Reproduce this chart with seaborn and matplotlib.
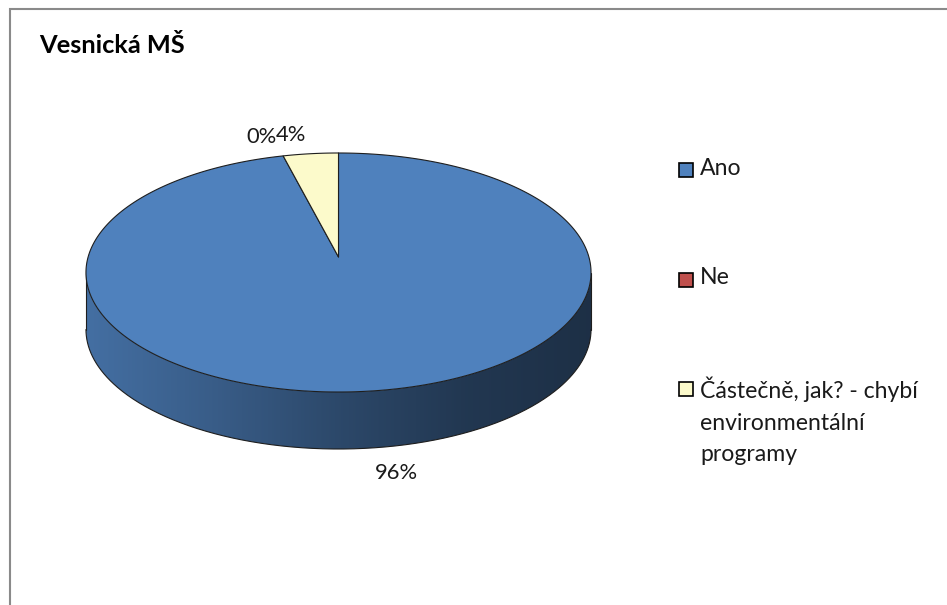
import numpy as np
import matplotlib
matplotlib.use("Agg")
import matplotlib.pyplot as plt
from matplotlib.patches import Polygon, Rectangle
import seaborn as sns

# --- chart data -------------------------------------------------------------
title = "Vesnická MŠ"
categories = ["Ano", "Ne", "Částečně, jak? - chybí\nenvironmentální\nprogramy"]
shares = [96, 0, 4]
slice_colors = ["#4F81BD", "#C0504D", "#FCFACB"]

# --- style ------------------------------------------------------------------
sns.set_theme(style="white")
plt.rcParams["font.family"] = ["Lato", "DejaVu Sans"]

W, H = 947, 605
fig = plt.figure(figsize=(W / 100, H / 100), dpi=100)
ax = fig.add_axes([0, 0, 1, 1])
ax.axis("off")

# chart-area frame (top and left edges)
ax.plot([10, 10, W], [H, 8.5, 8.5], color="#8A8A8A", lw=1.5,
         solid_capstyle="butt", solid_joinstyle="miter", zorder=1)

# --- 3-D pie geometry (tilted disc seen in perspective) ---------------------
CX, CY = 338.5, 257.0        # screen position of the disc centre
A, B, P = 250.4, 117.5, 0.1297
DEPTH = 57.0                 # thickness of the pie
EDGE = "#1E1E1E"


def project(theta, r=1.0, drop=0.0):
    """theta: clockwise from 12 o'clock (radians)."""
    u = r * np.sin(theta)
    v = r * np.cos(theta)
    d = 1.0 + P * v
    return CX + A * u / d, CY - B * v / d + drop


def shade(color, k):
    rgb = np.array(matplotlib.colors.to_rgb(color))
    return tuple(rgb * k)


total = float(sum(shares))
bounds = np.concatenate([[0.0], np.cumsum(shares) / total]) * 2 * np.pi

# visible part of the rim (between the two silhouette points)
t_vis0 = np.arccos(-P)
t_vis1 = 2 * np.pi - t_vis0
x_left, _ = project(t_vis1)
x_right, _ = project(t_vis0)

for i, col in enumerate(slice_colors):
    t0, t1 = bounds[i], bounds[i + 1]
    a0, a1 = max(t0, t_vis0), min(t1, t_vis1)
    if a1 <= a0:
        continue
    # rim shading: lit from the left, darkening towards the right
    side_cmap = sns.blend_palette(
        [shade(col, 0.86), shade(col, 0.72), shade(col, 0.56),
         shade(col, 0.43), shade(col, 0.37)], as_cmap=True)
    ts = np.linspace(a0, a1, 400)
    xt, yt = project(ts)
    xb, yb = project(ts, drop=DEPTH)
    rim = Polygon(list(zip(xt, yt)) + list(zip(xb[::-1], yb[::-1])),
                  closed=True, facecolor="none", edgecolor="none")
    ax.add_patch(rim)
    grad = np.linspace(0, 1, 512)[None, :]
    im = ax.imshow(grad, cmap=side_cmap, aspect="auto", interpolation="bilinear",
                   extent=(x_left, x_right, yb.max() + 2, yt.min() - 2), zorder=2)
    im.set_clip_path(rim)
    ax.plot(xb, yb, color=EDGE, lw=0.8, zorder=3)
    for t in (a0, a1):
        x, y = project(t)
        ax.plot([x, x], [y, y + DEPTH], color=EDGE, lw=0.8, zorder=3)

# top faces
for i, col in enumerate(slice_colors):
    t0, t1 = bounds[i], bounds[i + 1]
    if t1 - t0 <= 0:
        continue
    ts = np.linspace(t0, t1, max(3, int(600 * (t1 - t0) / (2 * np.pi))))
    xs, ys = project(ts)
    pts = [(CX, CY)] + list(zip(xs, ys))
    ax.add_patch(Polygon(pts, closed=True, facecolor=col, edgecolor=EDGE,
                         lw=0.8, joinstyle="round", zorder=4))

# data labels
for i, val in enumerate(shares):
    t0, t1 = bounds[i], bounds[i + 1]
    mid = (t0 + t1) / 2
    lx, ly = project(mid, r=1.1)
    front = np.cos(mid) < 0
    if front:
        ly += DEPTH
    ha = "left" if lx > CX else "right"
    va = "top" if front else "bottom"
    ax.text(lx - (4 if ha == "left" else 2), ly, f"{val:.0f}%", ha=ha, va=va,
            fontsize=15.8, color="#1A1A1A", zorder=6)

# title
ax.text(39, 53, title, ha="left", va="baseline", fontsize=18.3,
        fontweight="bold", color="#000000")

# legend
LEG_X, LEG_Y0, LEG_STEP, BOX = 679, 163, 109.5, 14
for i, (lab, col) in enumerate(zip(categories, slice_colors)):
    y = LEG_Y0 + i * LEG_STEP
    ax.add_patch(Rectangle((LEG_X, y), BOX, BOX, facecolor=col,
                           edgecolor="#000000", lw=1.2, zorder=5))
    ax.text(LEG_X + 21, y - 5, lab, ha="left", va="top", fontsize=16.6,
            linespacing=1.6, color="#1A1A1A")

ax.set_xlim(0, W)
ax.set_ylim(H, 0)
fig.savefig("out.png", dpi=100)
